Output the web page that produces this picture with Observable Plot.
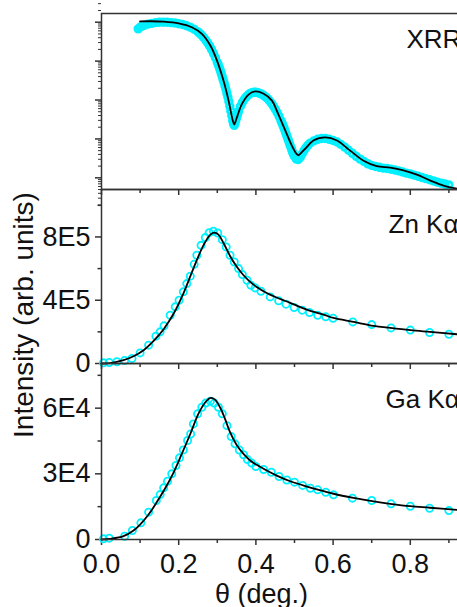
<!DOCTYPE html>
<html><head><meta charset="utf-8">
<script src="https://cdn.jsdelivr.net/npm/d3@7"></script>
<script src="https://cdn.jsdelivr.net/npm/@observablehq/plot@0.6"></script>
<style>
html,body{margin:0;padding:0;background:#fff;overflow:hidden;}
#wrap{position:relative;width:500px;height:607px;}
#wrap > svg{display:block;}
</style></head><body><div id="wrap"></div>
<script>
// ---------- data ----------
const panelLabels = ["XRR", "Zn K\u03b1", "Ga K\u03b1"];
const xAxisLabel = "\u03b8 (deg.)";
const yAxisLabel = "Intensity (arb. units)";

const xMajorTicks = [0, 0.2, 0.4, 0.6, 0.8];
const xMajorLabels = ["0.0", "0.2", "0.4", "0.6", "0.8"];
const xMinorTicks = [0.1, 0.3, 0.5, 0.7, 0.9];

const xrrDecades = [1e1, 1e2, 1e3, 1e4, 1e5];
const xrrMinorMult = [2, 3, 4, 5, 6, 7, 8, 9];

const znMajorTicks = [0, 4e5, 8e5];
const znTickLabels = ["0", "4E5", "8E5"];
const znMinorTicks = [2e5, 6e5, 1e6];

const gaMajorTicks = [0, 3e4, 6e4];
const gaTickLabels = ["0", "3E4", "6E4"];
const gaMinorTicks = [1.5e4, 4.5e4, 7.5e4];

// XRR: [theta, log10(intensity)]
const xrrMeasured = [[0.095,4.83],[0.100,4.87],[0.105,4.90],[0.110,4.92],[0.120,4.95],[0.130,4.97],[0.140,4.99],[0.150,5.00],[0.160,5.00],[0.170,5.00],[0.180,4.99],[0.190,4.98],[0.200,4.96],[0.210,4.94],[0.220,4.91],[0.230,4.87],[0.240,4.82],[0.250,4.75],[0.255,4.71],[0.260,4.66],[0.265,4.60],[0.270,4.54],[0.275,4.47],[0.280,4.39],[0.285,4.30],[0.290,4.20],[0.295,4.09],[0.300,3.97],[0.3025,3.91],[0.305,3.84],[0.3075,3.77],[0.310,3.69],[0.3125,3.61],[0.315,3.53],[0.3175,3.45],[0.320,3.36],[0.3225,3.27],[0.325,3.17],[0.3275,3.07],[0.330,2.96],[0.3325,2.84],[0.335,2.72],[0.3375,2.60],[0.340,2.47],[0.342,2.39],[0.344,2.35],[0.346,2.40],[0.348,2.48],[0.350,2.55],[0.3525,2.63],[0.355,2.71],[0.360,2.84],[0.365,2.94],[0.370,3.02],[0.375,3.08],[0.380,3.13],[0.385,3.17],[0.390,3.19],[0.395,3.20],[0.400,3.20],[0.405,3.19],[0.410,3.17],[0.415,3.15],[0.420,3.12],[0.425,3.08],[0.430,3.04],[0.435,2.98],[0.440,2.92],[0.445,2.85],[0.450,2.77],[0.455,2.68],[0.460,2.58],[0.465,2.47],[0.4675,2.41],[0.470,2.35],[0.4725,2.29],[0.475,2.22],[0.4775,2.15],[0.480,2.08],[0.4825,2.01],[0.485,1.94],[0.4875,1.87],[0.490,1.80],[0.4925,1.73],[0.495,1.66],[0.4975,1.60],[0.500,1.55],[0.505,1.48],[0.510,1.47],[0.515,1.53],[0.520,1.62],[0.525,1.71],[0.530,1.78],[0.535,1.84],[0.540,1.89],[0.550,1.95],[0.560,1.99],[0.570,2.01],[0.580,2.01],[0.590,1.99],[0.600,1.96],[0.610,1.92],[0.620,1.86],[0.630,1.79],[0.640,1.71],[0.650,1.63],[0.660,1.55],[0.670,1.48],[0.680,1.42],[0.690,1.36],[0.700,1.32],[0.710,1.29],[0.720,1.27],[0.730,1.25],[0.740,1.24],[0.750,1.22],[0.760,1.20],[0.770,1.18],[0.780,1.15],[0.790,1.12],[0.800,1.10],[0.810,1.07],[0.820,1.04],[0.830,1.01],[0.840,0.98],[0.850,0.95],[0.860,0.92],[0.870,0.89],[0.880,0.86],[0.890,0.84],[0.900,0.82]];
const xrrFit = [[0.100,5.02],[0.130,5.025],[0.160,5.015],[0.200,4.97],[0.234,4.87],[0.260,4.70],[0.282,4.40],[0.299,4.02],[0.316,3.50],[0.329,2.99],[0.338,2.56],[0.341,2.44],[0.344,2.37],[0.347,2.44],[0.351,2.56],[0.364,2.90],[0.381,3.14],[0.398,3.22],[0.420,3.16],[0.441,2.99],[0.454,2.73],[0.476,2.22],[0.493,1.83],[0.505,1.62],[0.510,1.58],[0.516,1.63],[0.528,1.75],[0.549,1.96],[0.580,2.04],[0.610,1.96],[0.644,1.70],[0.679,1.44],[0.713,1.30],[0.748,1.26],[0.782,1.19],[0.817,1.08],[0.852,0.93],[0.886,0.80],[0.921,0.72]];

// Zn K-alpha
const znMeasured = [[0.005,0.04e5],[0.020,0.06e5],[0.040,0.11e5],[0.060,0.19e5],[0.079,0.32e5],[0.100,0.67e5],[0.122,1.16e5],[0.141,1.73e5],[0.152,2.00e5],[0.162,2.38e5],[0.178,3.05e5],[0.191,3.58e5],[0.201,4.00e5],[0.212,4.53e5],[0.221,5.05e5],[0.230,5.52e5],[0.240,6.27e5],[0.247,6.84e5],[0.258,7.47e5],[0.269,7.96e5],[0.279,8.27e5],[0.290,8.36e5],[0.301,8.25e5],[0.313,7.83e5],[0.323,7.37e5],[0.333,6.84e5],[0.344,6.42e5],[0.355,6.00e5],[0.365,5.62e5],[0.377,5.26e5],[0.387,4.95e5],[0.398,4.78e5],[0.413,4.57e5],[0.437,4.21e5],[0.459,3.96e5],[0.478,3.75e5],[0.499,3.54e5],[0.520,3.37e5],[0.539,3.22e5],[0.560,3.05e5],[0.581,2.95e5],[0.600,2.86e5],[0.651,2.63e5],[0.700,2.46e5],[0.750,2.25e5],[0.800,2.11e5],[0.850,1.96e5],[0.900,1.85e5]];
const znFit = [[0.000,0.00e5],[0.022,0.02e5],[0.057,0.21e5],[0.083,0.46e5],[0.109,0.84e5],[0.135,1.43e5],[0.161,2.17e5],[0.187,3.16e5],[0.212,4.42e5],[0.238,6.00e5],[0.264,7.47e5],[0.282,8.15e5],[0.292,8.27e5],[0.303,8.15e5],[0.316,7.62e5],[0.333,6.80e5],[0.351,6.10e5],[0.368,5.58e5],[0.385,5.16e5],[0.402,4.84e5],[0.428,4.46e5],[0.454,4.17e5],[0.489,3.83e5],[0.532,3.41e5],[0.575,3.09e5],[0.601,2.88e5],[0.653,2.63e5],[0.705,2.38e5],[0.748,2.25e5],[0.800,2.11e5],[0.851,2.00e5],[0.921,1.85e5]];

// Ga K-alpha
const gaMeasured = [[0.005,0.03e4],[0.020,0.06e4],[0.060,0.15e4],[0.080,0.41e4],[0.102,0.76e4],[0.122,1.25e4],[0.142,1.78e4],[0.152,2.05e4],[0.161,2.36e4],[0.171,2.66e4],[0.182,3.00e4],[0.193,3.38e4],[0.202,3.73e4],[0.212,4.09e4],[0.223,4.52e4],[0.231,4.82e4],[0.238,5.28e4],[0.249,5.74e4],[0.260,6.04e4],[0.270,6.23e4],[0.282,6.32e4],[0.292,6.23e4],[0.303,6.04e4],[0.313,5.74e4],[0.325,5.20e4],[0.336,4.70e4],[0.346,4.37e4],[0.357,4.09e4],[0.368,3.87e4],[0.378,3.65e4],[0.389,3.49e4],[0.400,3.33e4],[0.420,3.20e4],[0.440,3.07e4],[0.460,2.88e4],[0.480,2.72e4],[0.500,2.62e4],[0.521,2.47e4],[0.541,2.34e4],[0.560,2.27e4],[0.581,2.16e4],[0.601,2.04e4],[0.650,1.89e4],[0.700,1.78e4],[0.750,1.63e4],[0.800,1.52e4],[0.850,1.43e4],[0.900,1.32e4]];
const gaFit = [[0.000,0.00e4],[0.022,0.03e4],[0.057,0.15e4],[0.083,0.41e4],[0.100,0.68e4],[0.122,1.14e4],[0.143,1.70e4],[0.165,2.34e4],[0.187,3.07e4],[0.208,3.91e4],[0.230,4.82e4],[0.251,5.74e4],[0.269,6.27e4],[0.283,6.47e4],[0.294,6.39e4],[0.307,6.04e4],[0.320,5.51e4],[0.333,4.90e4],[0.351,4.29e4],[0.368,3.91e4],[0.385,3.61e4],[0.402,3.41e4],[0.428,3.15e4],[0.454,2.92e4],[0.489,2.66e4],[0.532,2.42e4],[0.575,2.21e4],[0.601,2.09e4],[0.653,1.90e4],[0.705,1.74e4],[0.748,1.63e4],[0.800,1.52e4],[0.851,1.45e4],[0.921,1.35e4]];

// ---------- drawing ----------
const FONT = "'Liberation Sans', Arial, Helvetica, sans-serif";
const AXIS = "#333";
const CYAN = "#00f0ff";
const INK = "#111";
const FS = 27;

const xrrMinorTicks = [];
for (const d of [1e0, ...xrrDecades]) for (const m of xrrMinorMult) xrrMinorTicks.push(d * m);

function panel({height, marginTop, marginBottom, y, marks}) {
  return Plot.plot({
    width: 500, height, marginLeft: 101, marginRight: 13, marginTop, marginBottom,
    x: {domain: [0, 1], axis: null},
    y: {...y, axis: null},
    style: `font-family:${FONT};font-size:${FS}px;overflow:visible;max-width:none;background:transparent;color:${INK};`,
    marks
  });
}
function topTicks(h) {
  return [
    Plot.tickX(xMajorTicks, {x: d => d, insetBottom: h - 6, stroke: AXIS, strokeWidth: 1.5}),
    Plot.tickX(xMinorTicks, {x: d => d, insetBottom: h - 4, stroke: AXIS, strokeWidth: 1.5})
  ];
}
const dotsOpts = {x: d => d[0], y: d => d[1], r: 3.6, stroke: CYAN, strokeWidth: 1.8, fill: "none"};
const lineOpts = {x: d => d[0], y: d => d[1], stroke: "black", strokeWidth: 1.8, curve: "catmull-rom"};
const labelOpts = (dx, dy) => ({frameAnchor: "top-left", dx, dy, textAnchor: "start", lineAnchor: "bottom", fontSize: 26, fill: INK});

const xrr = panel({
  height: 189, marginTop: 13, marginBottom: 0,
  y: {type: "log", domain: [10 ** 0.70, 10 ** 5.224]},
  marks: [
    Plot.axisY(xrrDecades, {anchor: "left", tickSize: 6, tickFormat: () => "", stroke: AXIS, strokeWidth: 1.5, label: null}),
    Plot.axisY(xrrMinorTicks, {anchor: "left", tickSize: 3, tickFormat: () => "", stroke: AXIS, strokeWidth: 1, label: null}),
    Plot.dot(xrrMeasured, {x: d => d[0], y: d => 10 ** d[1], r: 3.3, stroke: CYAN, strokeWidth: 2.8, fill: "none"}),
    Plot.line(xrrFit, {x: d => d[0], y: d => 10 ** d[1], stroke: "black", strokeWidth: 1.8, curve: "catmull-rom", clip: true}),
    Plot.text([panelLabels[0]], labelOpts(305, 34)),
    Plot.frame({stroke: AXIS, strokeWidth: 1.5})
  ]
});

const zn = panel({
  height: 174, marginTop: 0, marginBottom: 0,
  y: {domain: [0, 1.1e6]},
  marks: [
    Plot.axisY(znMajorTicks, {anchor: "left", tickSize: 6, tickPadding: 5, tickFormat: d => znTickLabels[znMajorTicks.indexOf(d)], stroke: AXIS, strokeWidth: 1.5, fill: INK, label: null}),
    Plot.axisY(znMinorTicks, {anchor: "left", tickSize: 3.5, tickFormat: () => "", stroke: AXIS, strokeWidth: 1.5, label: null}),
    ...topTicks(174),
    Plot.dot(znMeasured, dotsOpts),
    Plot.line(znFit, lineOpts),
    Plot.text([panelLabels[1]], labelOpts(287, 43)),
    Plot.frame({stroke: AXIS, strokeWidth: 1.5})
  ]
});

const ga = panel({
  height: 244, marginTop: 0, marginBottom: 68,
  y: {domain: [0, 8.04e4]},
  marks: [
    Plot.axisY(gaMajorTicks, {anchor: "left", tickSize: 6, tickPadding: 5, tickFormat: d => gaTickLabels[gaMajorTicks.indexOf(d)], stroke: AXIS, strokeWidth: 1.5, fill: INK, label: null}),
    Plot.axisY(gaMinorTicks, {anchor: "left", tickSize: 3.5, tickFormat: () => "", stroke: AXIS, strokeWidth: 1.5, label: null}),
    Plot.axisX(xMajorTicks, {anchor: "bottom", tickSize: 6, tickPadding: 8, tickFormat: d => xMajorLabels[xMajorTicks.indexOf(d)], stroke: AXIS, strokeWidth: 1.5, fill: INK, label: null}),
    Plot.axisX(xMinorTicks, {anchor: "bottom", tickSize: 4, tickFormat: () => "", stroke: AXIS, strokeWidth: 1.5, label: null}),
    ...topTicks(176),
    Plot.dot(gaMeasured, dotsOpts),
    Plot.line(gaFit, lineOpts),
    Plot.text([panelLabels[2]], labelOpts(284, 44)),
    Plot.text([xAxisLabel], {frameAnchor: "bottom-left", dx: 160, dy: 63, textAnchor: "middle", lineAnchor: "bottom", fontSize: FS, fill: INK}),
    Plot.frame({stroke: AXIS, strokeWidth: 1.5})
  ]
});

const wrap = document.getElementById("wrap");
wrap.append(xrr, zn, ga);

// shared y-axis title spanning the two lower panels
const overlay = d3.select(wrap).append("svg")
  .attr("width", 457).attr("height", 607)
  .style("position", "absolute").style("left", "0px").style("top", "0px")
  .style("pointer-events", "none").style("overflow", "visible");
overlay.append("text")
  .attr("transform", "translate(33,315) rotate(-90)")
  .attr("text-anchor", "middle")
  .attr("font-family", FONT)
  .attr("font-size", 28)
  .attr("fill", INK)
  .text(yAxisLabel);
</script></body></html>
